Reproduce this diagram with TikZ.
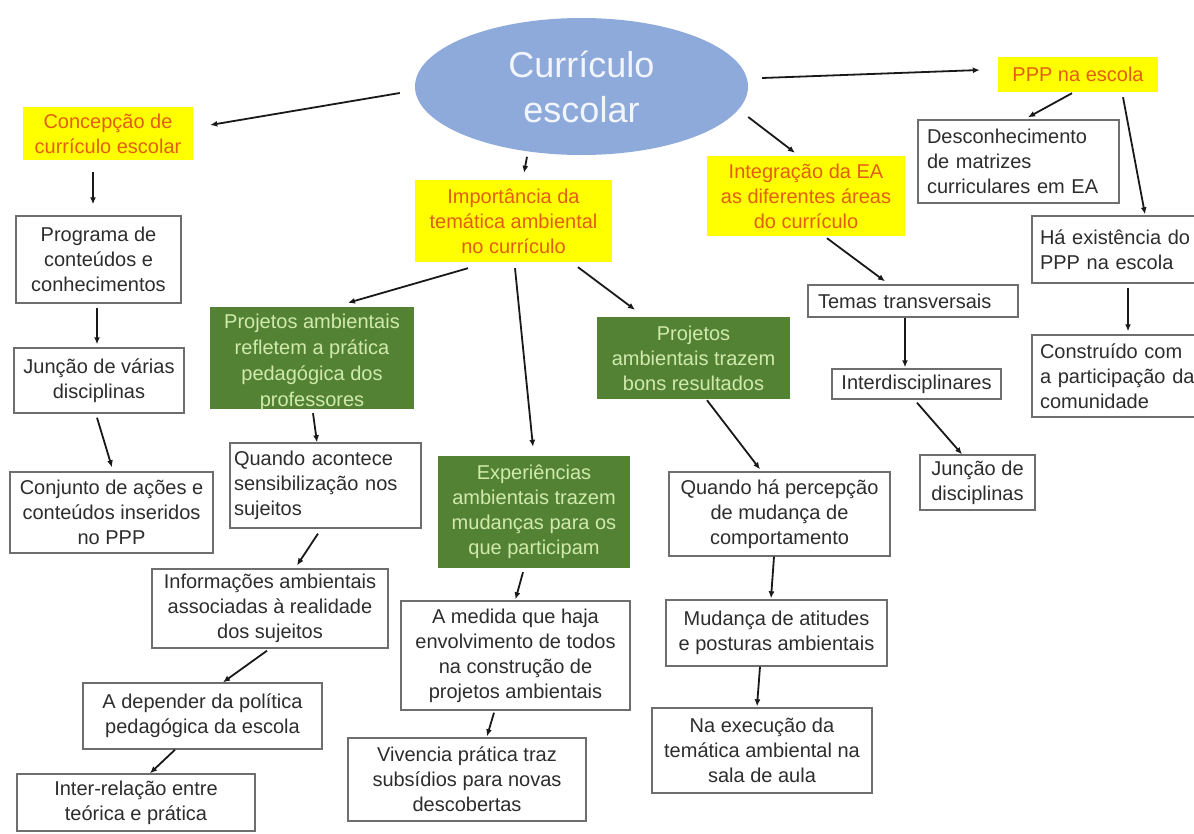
\documentclass[tikz,border=0pt]{standalone}
\usepackage{fontspec}
\setmainfont{Liberation Sans}
\usetikzlibrary{shapes.geometric,arrows.meta,calc}
\definecolor{ellfill}{RGB}{142,170,219}
\definecolor{elltext}{RGB}{242,245,252}
\definecolor{yel}{RGB}{255,255,0}
\definecolor{yeltext}{RGB}{225,95,15}
\definecolor{grn}{RGB}{84,130,53}
\definecolor{grntext}{RGB}{208,234,172}
\definecolor{bordr}{RGB}{110,110,110}
\definecolor{txt}{RGB}{45,45,45}
\begin{document}
\begin{tikzpicture}[x=1pt,y=-1pt,
  sz/.style 2 args={minimum width=#1pt,minimum height=#2pt},
  lsz/.style n args={3}{text width=#1pt,inner xsep=#2pt,inner ysep=0pt,minimum height=#3pt},
  basefont/.style={font=\fontsize{20}{25}\selectfont},
  wbox/.style={draw=bordr,line width=1.4pt,fill=white,text=txt,basefont,align=center,inner sep=0pt},
  lbox/.style={draw=bordr,line width=1.4pt,fill=white,text=txt,basefont,align=left},
  ybox/.style={fill=yel,text=yeltext,basefont,align=center,inner sep=0pt},
  gbox/.style={fill=grn,text=grntext,basefont,align=center,inner sep=0pt},
  gtext/.style={text=grntext,font=\fontsize{20}{26}\selectfont,align=center,inner sep=0pt},
  ell/.style={ellipse,fill=ellfill,text=elltext,minimum width=333pt,minimum height=137pt,inner sep=0pt,align=center,font=\fontsize{36}{45}\selectfont},
  arr/.style={draw=black!90,line width=1.8pt,-{Latex[length=7pt,width=6pt]}}
]
\useasboundingbox (0,0) rectangle (1194,833);
\clip (0,0) rectangle (1194,833);
\fill[white] (0,0) rectangle (1194,833);

% central
\node[ell] (cur) at (581.5,86.5) {Currículo\\escolar};

% left branch
\node[ybox,sz={170}{53}] (conc) at (108,133.5) {Concepção de\\currículo escolar};
\node[wbox,sz={165}{87}] (prog) at (98.5,259.5) {Programa de\\conteúdos e\\conhecimentos};
\node[wbox,sz={170}{65}] (junc) at (99,380.5) {Junção de várias\\disciplinas};
\node[wbox,sz={203}{81}] (conj) at (111.5,512.5) {Conjunto de ações e\\conteúdos inseridos\\no PPP};

% middle branch
\node[ybox,sz={197}{82}] (imp) at (513.5,221) {Importância da\\temática ambiental\\no currículo};
\node[gbox,sz={204}{102}] (g1) at (312,358) {};
\begin{scope}
\clip (g1.north west) rectangle (g1.south east);
\node[gtext] (g1t) at (312,362.5) {Projetos ambientais\\refletem a prática\\pedagógica dos\\professores};
\end{scope}
\node[lbox,lsz={183}{4}{85}] (q1) at (325.5,485.5) {Quando acontece\\sensibilização nos\\sujeitos};
\node[wbox,sz={236}{79}] (inf) at (270,608.5) {Informações ambientais\\associadas à realidade\\dos sujeitos};
\node[wbox,sz={239}{66}] (adep) at (202.5,716) {A depender da política\\pedagógica da escola};
\node[wbox,sz={238}{57}] (inter) at (136,802.5) {Inter-relação entre\\teórica e prática};

\node[gbox,sz={192}{112}] (exp) at (534,512) {Experiências\\ambientais trazem\\mudanças para os\\que participam};
\node[wbox,sz={229}{109}] (amed) at (515.5,655.5) {A medida que haja\\envolvimento de todos\\na construção de\\projetos ambientais};
\node[wbox,sz={238}{83}] (viv) at (467,779.5) {Vivencia prática traz\\subsídios para novas\\descobertas};

\node[gbox,sz={193}{82}] (g2) at (693.5,358) {Projetos\\ambientais trazem\\bons resultados};
\node[wbox,sz={221}{84}] (qh) at (779.5,514) {Quando há percepção\\de mudança de\\comportamento};
\node[wbox,sz={221}{66}] (mud) at (776.5,633) {Mudança de atitudes\\e posturas ambientais};
\node[wbox,sz={220}{85}] (naexec) at (762,750.5) {Na execução da\\temática ambiental na\\sala de aula};

% integration branch
\node[ybox,sz={198}{80}] (integ) at (806,196) {Integração da EA\\as diferentes áreas\\do currículo};
\node[lbox,lsz={190}{10}{32}] (temas) at (913,301) {Temas transversais};
\node[wbox,sz={169}{30}] (interd) at (916.5,384) {Interdisciplinares};
\node[wbox,sz={115}{55}] (juncd) at (977.5,482.5) {Junção de\\disciplinas};

% PPP branch
\node[ybox,sz={160}{35}] (ppp) at (1078,74.5) {PPP na escola};
\node[lbox,lsz={183}{9}{83}] (desc) at (1018.5,161.5) {Desconhecimento\\de matrizes\\curriculares em EA};
\node[lbox,lsz={162}{8}{67}] (haex) at (1121,249.5) {Há existência do\\PPP na escola};
\node[lbox,lsz={162}{8}{82}] (constr) at (1121,376) {Construído com\\a participação da\\comunidade};

% connectors
\draw[arr] ($(cur.west)+(-15,6.5)$) -- ($(conc.east)+(17,-8.5)$);
\draw[arr] ($(imp.north)+(13.5,-23)$) -- ($(imp.north)+(10.5,-7)$);
\draw[arr] ($(cur.east)+(0,30.5)$) -- ($(integ.north)+(-11,-3)$);
\draw[arr] ($(cur.east)+(14,-8.5)$) -- ($(ppp.west)+(-18,-4.5)$);

\draw[arr] ($(conc.south)+(-15,12)$) -- ($(prog.north)+(-5.5,-11)$);
\draw[arr] ($(prog.south)+(-1.5,4)$) -- ($(junc.north)+(-2,-3)$);
\draw[arr] ($(junc.south)+(-2,4)$) -- ($(conj.north)+(0.5,-4)$);

\draw[arr] ($(imp.south)+(-45.5,6)$) -- ($(g1.north)+(36,-4)$);
\draw[arr] ($(imp.south)+(1.5,6)$) -- ($(exp.north)+(-1,-9)$);
\draw[arr] ($(imp.south)+(64.5,5)$) -- ($(g2.north)+(-58.5,-7)$);

\draw[arr] ($(g1.south)+(1,4)$) -- ($(q1.north)+(-8.5,0)$);
\draw[arr] ($(q1.south)+(-7.5,5)$) -- ($(inf.north)+(27,-3)$);
\draw[arr] ($(inf.south)+(-3,2)$) -- ($(adep.north)+(20.5,0)$);
\draw[arr] ($(adep.south)+(-27.5,0)$) -- ($(inter.north)+(14,0)$);

\draw[arr] ($(exp.south)+(-11,4)$) -- ($(amed.north)+(0,-1)$);
\draw[arr] ($(amed.south)+(-21.5,2)$) -- ($(viv.north)+(20,-1)$);

\draw[arr] ($(g2.south)+(13.5,1)$) -- ($(qh.north)+(-19.5,-2)$);
\draw[arr] ($(qh.south)+(-5.5,0)$) -- ($(mud.north)+(-5.5,-1)$);
\draw[arr] ($(mud.south)+(-16.5,0)$) -- ($(naexec.north)+(-5,-1)$);

\draw[arr] ($(integ.south)+(21,2)$) -- ($(temas.north)+(-28,-3)$);
\draw[arr] ($(temas.south)+(-8,0)$) -- ($(interd.north)+(-11.5,-1)$);
\draw[arr] ($(interd.south)+(0.5,3)$) -- ($(juncd.north)+(-15.5,0)$);

\draw[arr] ($(ppp.south)+(-6,1)$) -- ($(desc.north)+(9.5,-2)$);
\draw[arr] ($(ppp.south)+(45,5)$) -- ($(haex.north)+(24,-1)$);
\draw[arr] ($(haex.south)+(7,4)$) -- ($(constr.north)+(7,-3)$);
\end{tikzpicture}
\end{document}
